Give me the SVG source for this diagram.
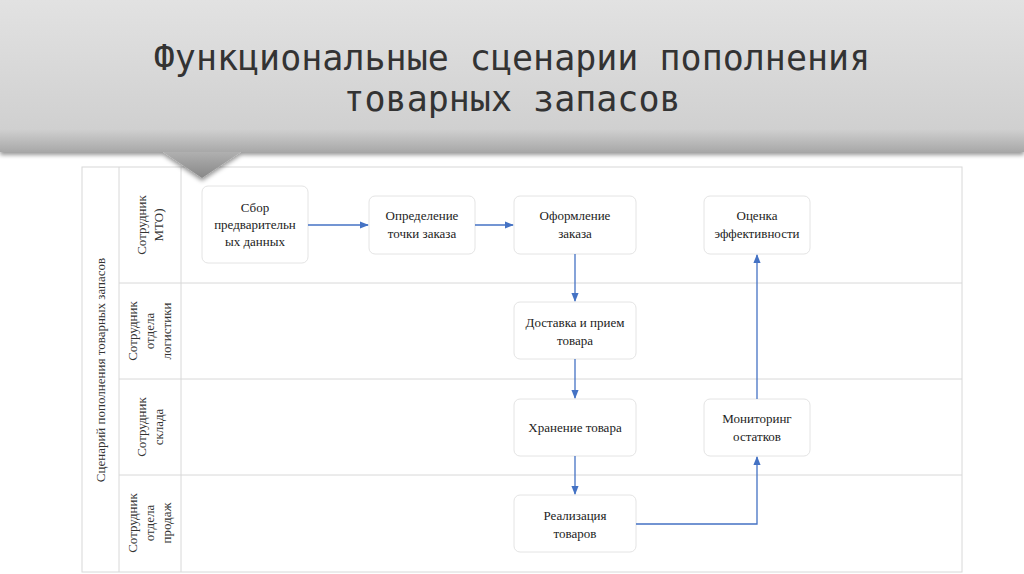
<svg xmlns="http://www.w3.org/2000/svg" width="1024" height="574" viewBox="0 0 1024 574">
<defs>
<linearGradient id="bg" x1="0" y1="0" x2="0" y2="1"><stop offset="0" stop-color="#e2e2e2"/><stop offset="0.85" stop-color="#d0d0d0"/><stop offset="1" stop-color="#a8a8a8"/></linearGradient>
<linearGradient id="tri" x1="0" y1="0" x2="0" y2="1"><stop offset="0" stop-color="#b0b0b0"/><stop offset="1" stop-color="#888"/></linearGradient>
<marker id="ar" viewBox="0 0 10 10" refX="9" refY="5" markerWidth="7" markerHeight="7" orient="auto"><path d="M0,1 L10,5 L0,9 z" fill="#4472c4"/></marker>
<filter id="sh" x="-5%" y="-5%" width="110%" height="130%"><feDropShadow dx="0" dy="3" stdDeviation="2" flood-opacity="0.4"/></filter>
</defs>
<style>
.box{fill:#fff;stroke:#e4e4e4;stroke-width:1}
.t{font-family:"Liberation Serif",serif;font-size:13px;fill:#222;text-anchor:middle}
.lane{font-family:"Liberation Serif",serif;font-size:13px;fill:#333;text-anchor:middle}
.g{stroke:#d8d8d8;stroke-width:1;fill:none}
.c{stroke:#4472c4;stroke-width:1.3;fill:none;marker-end:url(#ar)}
.title{font-family:"DejaVu Sans Mono","Liberation Mono",monospace;font-size:35px;font-weight:300;fill:#333;text-anchor:middle}
</style>
<rect width="1024" height="574" fill="#fff"/>
<g id="grid">
<rect x="82" y="167" width="880" height="405" class="g"/>
<line x1="119" y1="167" x2="119" y2="572" class="g"/>
<line x1="181" y1="167" x2="181" y2="572" class="g"/>
<line x1="119" y1="283" x2="962" y2="283" class="g"/>
<line x1="119" y1="379" x2="962" y2="379" class="g"/>
<line x1="119" y1="475" x2="962" y2="475" class="g"/>
<text class="lane" transform="translate(105,370) rotate(-90)">Сценарий пополнения товарных запасов</text>
<text class="lane" transform="translate(146,225) rotate(-90)"><tspan x="0" y="0">Сотрудник</tspan><tspan x="0" y="17">МТО)</tspan></text>
<text class="lane" transform="translate(137,331) rotate(-90)"><tspan x="0" y="0">Сотрудник</tspan><tspan x="0" y="17">отдела</tspan><tspan x="0" y="34">логистики</tspan></text>
<text class="lane" transform="translate(146,427) rotate(-90)"><tspan x="0" y="0">Сотрудник</tspan><tspan x="0" y="17">склада</tspan></text>
<text class="lane" transform="translate(137,523) rotate(-90)"><tspan x="0" y="0">Сотрудник</tspan><tspan x="0" y="17">отдела</tspan><tspan x="0" y="34">продаж</tspan></text>
</g>
<g id="banner" filter="url(#sh)">
<rect x="0" y="0" width="1024" height="152" fill="url(#bg)"/>
<path d="M163,152 L241,152 L202,178 z" fill="url(#tri)"/>
</g>
<g id="title">
<text class="title" x="512" y="70">Функциональные сценарии пополнения</text>
<text class="title" x="512" y="111">товарных запасов</text>
</g>
<g id="n1"><rect class="box" x="202" y="186" width="106" height="77" rx="6"/><text class="t" x="255" y="212">Сбор</text><text class="t" x="255" y="229">предварительн</text><text class="t" x="255" y="246">ых данных</text></g>
<g id="n2"><rect class="box" x="369" y="196" width="106" height="58" rx="6"/><text class="t" x="422" y="220">Определение</text><text class="t" x="422" y="238">точки заказа</text></g>
<g id="n3"><rect class="box" x="514" y="196" width="122" height="58" rx="6"/><text class="t" x="575" y="220">Оформление</text><text class="t" x="575" y="238">заказа</text></g>
<g id="n4"><rect class="box" x="704" y="196" width="106" height="58" rx="6"/><text class="t" x="757" y="220">Оценка</text><text class="t" x="757" y="238">эффективности</text></g>
<g id="n5"><rect class="box" x="514" y="302" width="122" height="57" rx="6"/><text class="t" x="575" y="327">Доставка и прием</text><text class="t" x="575" y="345">товара</text></g>
<g id="n6"><rect class="box" x="514" y="399" width="122" height="57" rx="6"/><text class="t" x="575" y="432">Хранение товара</text></g>
<g id="n7"><rect class="box" x="704" y="399" width="106" height="57" rx="6"/><text class="t" x="757" y="423">Мониторинг</text><text class="t" x="757" y="441">остатков</text></g>
<g id="n8"><rect class="box" x="514" y="495" width="122" height="57" rx="6"/><text class="t" x="575" y="520">Реализация</text><text class="t" x="575" y="538">товаров</text></g>
<g id="connectors">
<path class="c" d="M308,225 L368,225"/>
<path class="c" d="M475,225 L513,225"/>
<path class="c" d="M575,254 L575,301"/>
<path class="c" d="M575,359 L575,398"/>
<path class="c" d="M575,456 L575,494"/>
<path class="c" d="M636,524 L757,524 L757,457"/>
<path class="c" d="M757,399 L757,255"/>
</g>
</svg>
